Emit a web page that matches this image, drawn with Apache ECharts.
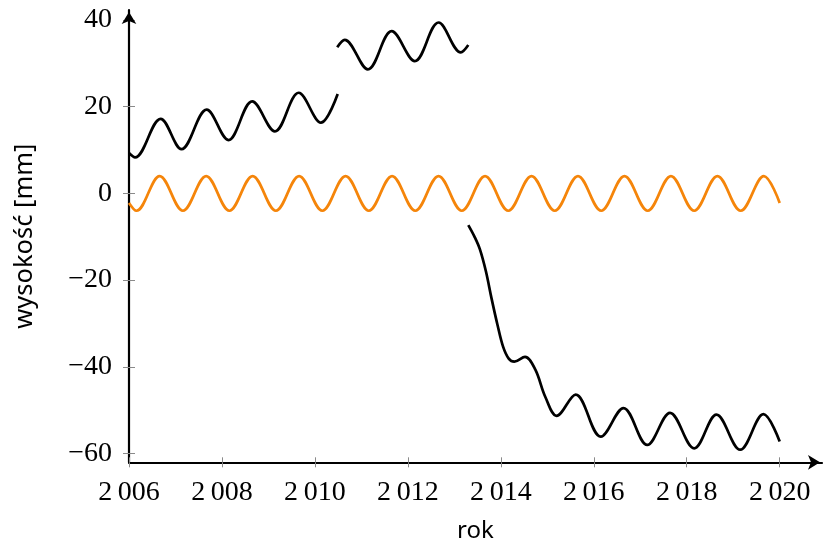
<!DOCTYPE html>
<html>
<head>
<meta charset="utf-8">
<script src="https://cdn.jsdelivr.net/npm/echarts@6/dist/echarts.min.js"></script>
<style>
  html, body { margin: 0; padding: 0; background: #ffffff; }
  #chart { width: 824px; height: 543px; }
</style>
</head>
<body>
<div id="chart"></div>
<script>
// Tick positions on both axes
const yearTicks = [2006, 2008, 2010, 2012, 2014, 2016, 2018, 2020];
const heightTicks = [-60, -40, -20, 0, 20, 40];

// Seasonal component (orange): [year, mm] at start, troughs, peaks and end
const seasonal = [
  [2006.00, -2.2], [2006.16, -4], [2006.66, 4], [2007.16, -4], [2007.66, 4],
  [2008.16, -4], [2008.66, 4], [2009.16, -4], [2009.66, 4], [2010.16, -4],
  [2010.66, 4], [2011.16, -4], [2011.66, 4], [2012.16, -4], [2012.66, 4],
  [2013.16, -4], [2013.66, 4], [2014.16, -4], [2014.66, 4], [2015.16, -4],
  [2015.66, 4], [2016.16, -4], [2016.66, 4], [2017.16, -4], [2017.66, 4],
  [2018.16, -4], [2018.66, 4], [2019.16, -4], [2019.66, 4], [2020.00, -2.2]
];

// Measured height, first piece (2006 - mid 2010)
const heightPart1 = [
  [2006.00, 9.3], [2006.13, 8.3], [2006.68, 17.2], [2007.13, 10.2],
  [2007.67, 19.3], [2008.14, 12.3], [2008.65, 21.2], [2009.14, 14.3],
  [2009.65, 23.2], [2010.13, 16.3], [2010.49, 22.9]
];

// Second piece (mid 2010 - 2013)
const heightPart2 = [
  [2010.48, 33.7], [2010.64, 35.4], [2011.14, 28.6], [2011.65, 37.4],
  [2012.15, 30.5], [2012.66, 39.4], [2013.14, 32.5], [2013.30, 34.2]
];

// Third piece (2013 - 2020), the subsidence
const heightPart3 = [
  [2013.30, -7.3], [2013.43, -9.9], [2013.55, -12.9], [2013.68, -18.0],
  [2013.80, -24.2], [2013.93, -30.4], [2014.05, -35.4], [2014.17, -38.1],
  [2014.29, -38.8], [2014.52, -37.7], [2014.74, -40.6], [2014.96, -47.0],
  [2015.20, -51.3], [2015.61, -46.4], [2016.15, -56.1],
  [2016.64, -49.5], [2017.15, -58.0], [2017.64, -50.6], [2018.16, -58.8],
  [2018.64, -51.0], [2019.15, -59.1], [2019.65, -50.9], [2020.00, -57.2]
];

const X_MIN = 2006, X_MAX = 2020.91;
const Y_MIN = -62, Y_MAX = 42.28;

const serif = '"Liberation Serif", "DejaVu Serif", serif';
const sans = '"Noto Sans", "Open Sans", sans-serif';
const tickGray = '#8a8a8a';

const fmtYear = v => String(v).replace(/^(\d)(\d{3})$/, '$1\u2009$2');
const fmtHeight = v => (v < 0 ? '\u2212' + (-v) : String(v));

function lineSeries(data, color) {
  return {
    type: 'line',
    data: data,
    xAxisIndex: 0,
    yAxisIndex: 0,
    showSymbol: false,
    smooth: 0.36,
    lineStyle: { color: color, width: 2.7 },
    itemStyle: { color: color },
    emphasis: { disabled: true },
    animation: false
  };
}

const chart = echarts.init(document.getElementById('chart'), null, { renderer: 'canvas' });

chart.setOption({
  backgroundColor: '#ffffff',
  animation: false,
  grid: { left: 129, right: 2, top: 10, bottom: 80.7, containLabel: false, outerBoundsMode: 'none' },
  xAxis: [
    {
      type: 'value',
      min: X_MIN, max: X_MAX,
      position: 'bottom',
      name: 'rok',
      nameLocation: 'middle',
      nameGap: 57,
      nameMoveOverlap: false,
      nameTextStyle: { fontFamily: sans, fontSize: 24, color: '#000' },
      axisLine: {
        show: true, onZero: false,
        symbol: ['none', 'arrow'], symbolSize: [11, 12], symbolOffset: [0, -2],
        lineStyle: { color: '#000', width: 2.2 }
      },
      axisTick: { show: true, inside: false, length: 5, customValues: yearTicks,
                  lineStyle: { color: tickGray, width: 1 } },
      axisLabel: { customValues: yearTicks, formatter: fmtYear, margin: 16,
                   fontFamily: serif, fontSize: 28, color: '#000' },
      splitLine: { show: false }
    },
    {
      type: 'value',
      min: X_MIN, max: X_MAX,
      position: 'bottom',
      axisLine: { show: false, onZero: false },
      axisTick: { show: true, inside: true, length: 5, customValues: yearTicks,
                  lineStyle: { color: tickGray, width: 1 } },
      axisLabel: { show: false },
      splitLine: { show: false }
    }
  ],
  yAxis: [
    {
      type: 'value',
      min: Y_MIN, max: Y_MAX,
      position: 'left',
      name: 'wysokość [mm]',
      nameLocation: 'middle',
      nameGap: 91,
      nameMoveOverlap: false,
      nameTextStyle: { fontFamily: sans, fontSize: 25.5, color: '#000' },
      axisLine: {
        show: true, onZero: false,
        symbol: ['none', 'arrow'], symbolSize: [11, 12], symbolOffset: [0, -2],
        lineStyle: { color: '#000', width: 2.2 }
      },
      axisTick: { show: true, inside: false, length: 6, customValues: heightTicks,
                  lineStyle: { color: tickGray, width: 1 } },
      axisLabel: { customValues: heightTicks, formatter: fmtHeight, margin: 17,
                   fontFamily: serif, fontSize: 28, color: '#000' },
      splitLine: { show: false }
    },
    {
      type: 'value',
      min: Y_MIN, max: Y_MAX,
      position: 'left',
      axisLine: { show: false, onZero: false },
      axisTick: { show: true, inside: true, length: 6, customValues: heightTicks,
                  lineStyle: { color: tickGray, width: 1 } },
      axisLabel: { show: false },
      splitLine: { show: false }
    }
  ],
  series: [
    lineSeries(seasonal, '#f5850a'),
    lineSeries(heightPart1, '#000000'),
    lineSeries(heightPart2, '#000000'),
    lineSeries(heightPart3, '#000000')
  ]
});
</script>
</body>
</html>
